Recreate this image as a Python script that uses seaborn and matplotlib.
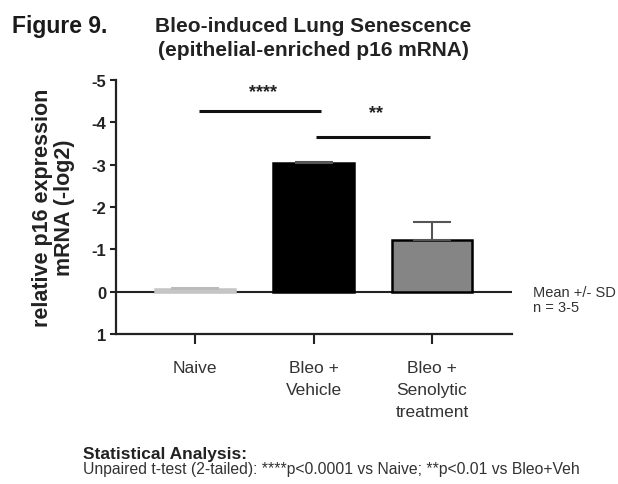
import pandas as pd
import matplotlib
matplotlib.use("Agg")
import matplotlib.pyplot as plt
import seaborn as sns

# =========================
# Data
# =========================
groups = ["Naive", "Bleo +\nVehicle", "Bleo +\nSenolytic\ntreatment"]
mean_vals = [-0.06, -3.03, -1.21]   # -log2 relative expression
sd_vals = [0.03, 0.04, 0.43]
bar_colors = ["#d0d0d0", "#000000", "#858585"]
edge_colors = ["#c4c4c4", "#000000", "#000000"]
y_ticks = [-5, -4, -3, -2, -1, 0, 1]

# significance brackets: (x start, x end, y line, y text, label)
sig_marks = [(0.03, 1.06, -4.27, -4.62, "****"),
             (1.02, 1.98, -3.66, -4.12, "**")]

df = pd.DataFrame({"group": groups, "value": mean_vals})

sns.set_style("ticks")
plt.rcParams["font.family"] = ["Liberation Sans", "DejaVu Sans"]

fig = plt.figure(figsize=(6.18, 4.85), dpi=100)
ax = fig.add_axes([0.1877, 0.3093, 0.6408, 0.5237])

sns.barplot(data=df, x="group", y="value", hue="group", palette=bar_colors,
            width=0.68, legend=False, ax=ax, errorbar=None)
for patch, ec in zip(ax.patches, edge_colors):
    patch.set_edgecolor(ec)
    patch.set_linewidth(1.8)

# error bars (one-sided, toward bar tip)
for i, (m, s) in enumerate(zip(mean_vals, sd_vals)):
    c = "#bbbbbb" if i == 0 else "#555555"
    ax.errorbar(i, m, yerr=[[s], [0]], fmt="none", ecolor=c,
                elinewidth=1.5, capsize=14 if i else 17, capthick=1.5)

ax.axhline(0, color="#222222", lw=1.5, zorder=0)

# =========================
# Significance brackets
# =========================
for x0, x1, yl, yt, lab in sig_marks:
    ax.plot([x0, x1], [yl, yl], color="#111111", lw=2.2, solid_capstyle="butt")
    ax.text((x0 + x1) / 2 + 0.03, yt, lab, ha="center", va="baseline",
            fontsize=13, fontweight="bold", color="#222222")

ax.set_xlim(-0.667, 2.675)
ax.set_ylim(1, -5)
ax.set_yticks(y_ticks)
ax.set_yticklabels([str(t) for t in y_ticks], fontsize=12, fontweight="bold",
                   color="#222222")
ax.tick_params(axis="y", length=4, width=1.5, pad=3, color="#222222")
ax.tick_params(axis="x", length=7, width=1.5, pad=12, labelsize=12.5,
               color="#222222")
for lbl in ax.get_xticklabels():
    lbl.set_linespacing(1.55)
    lbl.set_color("#333333")
ax.set_xlabel("")
ax.set_ylabel("relative p16 expression\nmRNA (-log2)", fontsize=15.5,
              fontweight="bold", labelpad=12, linespacing=1.05,
              color="#222222")
for side in ["top", "right"]:
    ax.spines[side].set_visible(False)
for side in ["left", "bottom"]:
    ax.spines[side].set_linewidth(1.6)
    ax.spines[side].set_color("#222222")

fig.text(0.862, 0.396, "Mean +/- SD", fontsize=10.5, va="center", ha="left",
         color="#333333")
fig.text(0.862, 0.365, "n = 3-5", fontsize=10.5, va="center", ha="left",
         color="#333333")

# =========================
# Titles
# =========================
fig.text(0.019, 0.946, "Figure 9.", fontsize=16.5, fontweight="bold",
         va="center", color="#1a1a1a")
fig.text(0.507, 0.946, "Bleo-induced Lung Senescence", fontsize=15,
         fontweight="bold", va="center", ha="center", color="#222222")
fig.text(0.507, 0.895, "(epithelial-enriched p16 mRNA)", fontsize=15,
         fontweight="bold", va="center", ha="center", color="#222222")

# =========================
# Footnote
# =========================
fig.text(0.134, 0.062, "Statistical Analysis:", fontsize=12.5,
         fontweight="bold", va="center", color="#222222")
fig.text(0.134, 0.031,
         "Unpaired t-test (2-tailed): ****p<0.0001 vs Naive; **p<0.01 vs Bleo+Veh",
         fontsize=11.3, va="center", color="#333333")

plt.savefig("out.png", dpi=100)
plt.close()
